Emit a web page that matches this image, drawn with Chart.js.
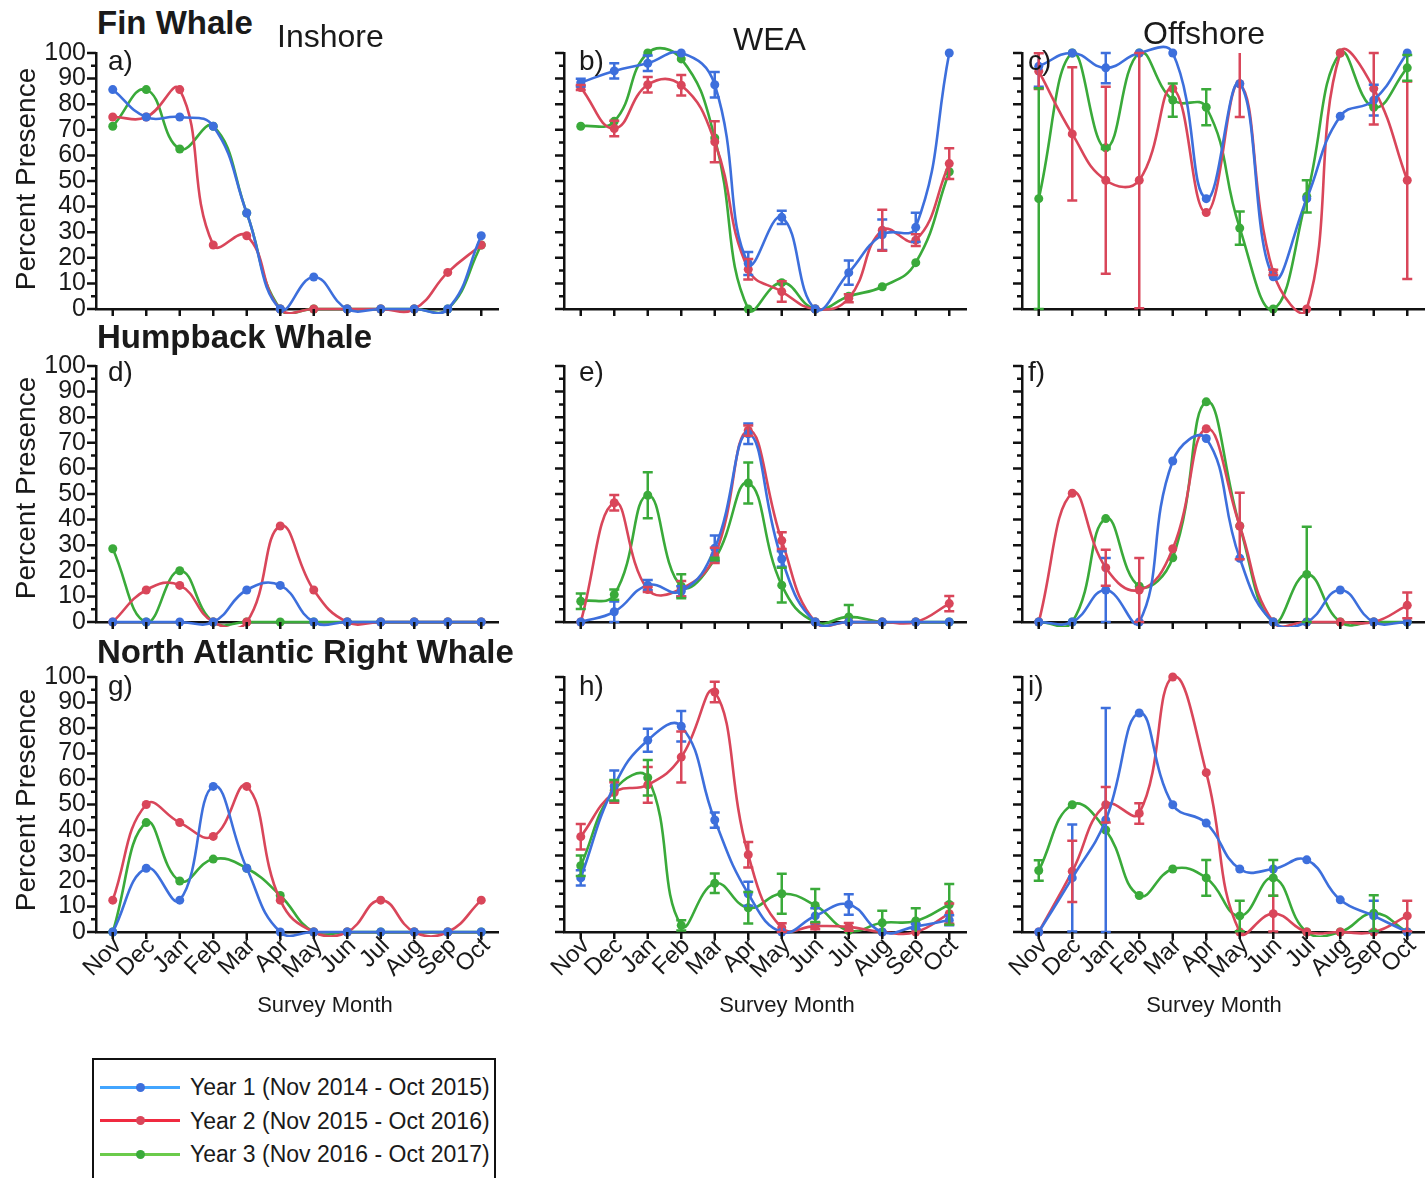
<!DOCTYPE html>
<html>
<head>
<meta charset="utf-8">
<script src="https://cdn.jsdelivr.net/npm/chart.js@4.4.1/dist/chart.umd.min.js"></script>
<style>
  html, body { margin: 0; padding: 0; background: #fff; }
  body { width: 1428px; height: 1178px; position: relative; overflow: hidden;
         font-family: 'Liberation Sans', Arial, sans-serif; color: #1a1a1a; }
  .txt { position: absolute; white-space: nowrap; z-index: 2; }
  .bold { font-weight: bold; font-size: 33px; line-height: 36px; }
  .col { font-size: 32px; line-height: 36px; }
  .tag { font-size: 28px; line-height: 30px; }
  .ytitle { font-size: 28px; line-height: 30px; width: 300px; text-align: center; transform: rotate(-90deg); }
  .xtitle { font-size: 22px; line-height: 26px; width: 300px; text-align: center; }
  #legend { position: absolute; left: 92px; top: 1058px; width: 400px; height: 140px;
            border: 2px solid #111; z-index: 2; }
  .lrow { position: absolute; left: 0; height: 34px; width: 400px; font-size: 23px; line-height: 34px; }
  .lline { position: absolute; left: 6px; top: 15.5px; width: 80px; height: 3px; }
  .ldot { position: absolute; left: 41.5px; top: 12.5px; width: 9px; height: 9px; border-radius: 50%; }
  .ltext { position: absolute; left: 96px; top: 0; }
</style>
</head>
<body>
<script>
const months = ['Nov', 'Dec', 'Jan', 'Feb', 'Mar', 'Apr', 'May', 'Jun', 'Jul', 'Aug', 'Sep', 'Oct'];
const yTickValues = [0, 10, 20, 30, 40, 50, 60, 70, 80, 90, 100];
const seriesNames = ['Year 1 (Nov 2014 - Oct 2015)', 'Year 2 (Nov 2015 - Oct 2016)', 'Year 3 (Nov 2016 - Oct 2017)'];

// Fin whale
const finInY1 = [85.7, 75, 75, 71.4, 37.5, 0, 12.5, 0, 0, 0, 0, 28.6];
const finInY2 = [75, 75, 85.7, 25, 28.6, 0, 0, 0, 0, 0, 14.3, 25];
const finInY3 = [71.4, 85.7, 62.5, 71.4, 37.5, 0, 0, 0, 0, 0, 0, 25];

const finWeaY1 = [88.4, 93, 96, 100, 87.6, 17.8, 35.8, 0, 14.2, 29, 31.9, 100];
const finWeaY1Err = [1.5, 3, 3, 0, 5, 4.5, 2.6, 0, 4.7, 6, 5.7, 0];
const finWeaY2 = [86.5, 70.5, 87.6, 87.4, 65.3, 15.5, 6.8, 0, 4.2, 30.8, 26.9, 56.8];
const finWeaY2Err = [1, 3, 3, 4, 8, 4, 4, 0, 1.6, 8, 2.3, 6];
const finWeaY3 = [71.4, 73.3, 100, 97.7, 66.8, 0, 10.3, 0, 5, 8.7, 18.1, 53.6];
const finWeaY3Err = [0, 0, 0, 0, 0, 0, 0, 0, 0, 0, 0, 0];

const finOffY1 = [94.8, 100, 94.2, 100, 100, 43.1, 88, 12.6, 43.1, 75.3, 81.6, 100];
const finOffY1Err = [8, 0, 6, 0, 0, 0, 0, 0, 0, 0, 6, 0];
const finOffY2 = [92.9, 68.4, 50.3, 50.3, 86.1, 37.7, 88, 14.3, 0, 100, 86.1, 50.3];
const finOffY2Err = [7, 26, 36.5, 50, 0, 0, 13, 1, 0, 0, 14, 38.6];
const finOffY3 = [43.1, 100, 63, 100, 81.6, 78.8, 31.6, 0, 44, 100, 78.8, 94.2];
const finOffY3Err = [43.1, 0, 0.5, 0, 6.5, 7, 6.5, 0, 6.3, 0, 0, 5];

// Humpback whale
const humpInY1 = [0, 0, 0, 0, 12.5, 14.3, 0, 0, 0, 0, 0, 0];
const humpInY2 = [0, 12.5, 14.3, 0, 0, 37.5, 12.5, 0, 0, 0, 0, 0];
const humpInY3 = [28.6, 0, 20, 0, 0, 0, 0, 0, 0, 0, 0, 0];

const humpWeaY1 = [0, 4, 14.4, 12, 28.8, 73.5, 24.6, 0, 0, 0, 0, 0];
const humpWeaY1Err = [0, 4, 2, 2, 5, 4, 3, 0, 0, 0, 0, 0];
const humpWeaY2 = [0, 46.6, 12.7, 13, 26, 74.8, 31.8, 0, 0, 0, 0, 7.2];
const humpWeaY2Err = [0, 3, 1, 3, 3, 2, 3.3, 0, 0, 0, 0, 3];
const humpWeaY3 = [8.1, 10.7, 49.5, 14, 24.6, 54.3, 14.4, 0, 2, 0, 0, 0];
const humpWeaY3Err = [3, 2, 9, 4.7, 0.5, 8, 6.8, 0, 4.6, 0, 0, 0];

const humpOffY1 = [0, 0, 12.5, 0, 62.9, 71.7, 24.9, 0, 0, 12.5, 0, 0];
const humpOffY1Err = [0, 0, 12.5, 0, 0, 0, 0, 0, 0, 0, 0, 0];
const humpOffY2 = [0, 50.3, 21.2, 12.5, 28.6, 75.5, 37.5, 0, 0, 0, 0, 6.5];
const humpOffY2Err = [0, 0, 7, 12.5, 0, 0, 13, 0, 0, 0, 0, 5];
const humpOffY3 = [0, 0, 40.4, 14, 25.1, 86, 37.5, 0, 18.6, 0, 0, 0];
const humpOffY3Err = [0, 0, 0, 0, 0, 0, 0, 0, 18.6, 0, 0, 0];

// North Atlantic right whale
const rightInY1 = [0, 25, 12.5, 57.1, 25, 0, 0, 0, 0, 0, 0, 0];
const rightInY2 = [12.5, 50, 42.9, 37.5, 57.1, 12.5, 0, 0, 12.5, 0, 0, 12.5];
const rightInY3 = [0, 42.9, 20, 28.6, 25, 14.3, 0, 0, 0, 0, 0, 0];

const rightWeaY1 = [21.2, 57.3, 75.2, 80.7, 43.9, 15, 0, 6.3, 10.8, 0, 2.2, 4.6];
const rightWeaY1Err = [3, 6, 4.5, 6, 3, 4.7, 0, 3, 4, 0, 1, 2];
const rightWeaY2 = [37.4, 54.7, 57.7, 68.6, 94.1, 30.3, 1.7, 2.3, 2, 0, 0, 7.2];
const rightWeaY2Err = [5, 4, 7, 10, 4, 5, 1.7, 1.2, 1.5, 0, 0, 4];
const rightWeaY3 = [26, 55.6, 60.5, 2.6, 19.1, 9.5, 15, 10.4, 0.6, 3.6, 4.3, 10.8];
const rightWeaY3Err = [4, 4, 7, 2, 3.8, 6.2, 7.8, 6.5, 0, 4.7, 5, 8];

const rightOffY1 = [0, 21.2, 43.9, 85.9, 49.9, 42.7, 24.7, 24.7, 28.3, 12.6, 6.3, 0];
const rightOffY1Err = [0, 21, 43.9, 0, 0, 0, 0, 0, 0, 0, 6, 0];
const rightOffY2 = [0, 23.8, 49.9, 46.5, 100, 62.5, 0, 7.2, 0, 0, 0, 6.3];
const rightOffY2Err = [0, 12, 7, 4, 0, 0, 0, 7, 0, 0, 0, 6];
const rightOffY3 = [24.1, 49.9, 40, 14.3, 24.7, 21.2, 6.3, 21.2, 0, 0, 7.4, 0];
const rightOffY3Err = [4, 0, 0, 0, 0, 7, 6, 7, 0, 0, 7, 0];

const colors = ['#3d6fdc', '#d9465a', '#3aaa3a'];
const legendLineColors = ['#42a5ff', '#f02a40', '#6bcb4b'];
const fontFamily = "'Liberation Sans', Arial, sans-serif";

// panel layout
const colX = [96, 564, 1022];
const rowTop = [53, 366, 677];
const rowBottom = [309, 622, 932];
const plotW = 402;
const padL = 70, padT = 12, padR = 12;

const panels = [
    { tag: 'a)', col: 0, row: 0, series: [finInY1, finInY2, finInY3] },
    { tag: 'b)', col: 1, row: 0, series: [finWeaY1, finWeaY2, finWeaY3], errs: [finWeaY1Err, finWeaY2Err, finWeaY3Err] },
    { tag: 'c)', col: 2, row: 0, series: [finOffY1, finOffY2, finOffY3], errs: [finOffY1Err, finOffY2Err, finOffY3Err] },
    { tag: 'd)', col: 0, row: 1, series: [humpInY1, humpInY2, humpInY3] },
    { tag: 'e)', col: 1, row: 1, series: [humpWeaY1, humpWeaY2, humpWeaY3], errs: [humpWeaY1Err, humpWeaY2Err, humpWeaY3Err] },
    { tag: 'f)', col: 2, row: 1, series: [humpOffY1, humpOffY2, humpOffY3], errs: [humpOffY1Err, humpOffY2Err, humpOffY3Err] },
    { tag: 'g)', col: 0, row: 2, series: [rightInY1, rightInY2, rightInY3] },
    { tag: 'h)', col: 1, row: 2, series: [rightWeaY1, rightWeaY2, rightWeaY3], errs: [rightWeaY1Err, rightWeaY2Err, rightWeaY3Err] },
    { tag: 'i)', col: 2, row: 2, series: [rightOffY1, rightOffY2, rightOffY3], errs: [rightOffY1Err, rightOffY2Err, rightOffY3Err] }
];

// tick marks: majors every 10, minors every 5, x ticks pointing down
const axisTicks = {
    id: 'axisTicks',
    afterDraw(chart) {
        const { ctx, chartArea, scales: { x, y } } = chart;
        ctx.save();
        ctx.strokeStyle = '#111';
        ctx.lineWidth = 2.5;
        ctx.beginPath();
        for (let v = 0; v <= 100; v += 5) {
            const py = y.getPixelForValue(v);
            const len = v % 10 === 0 ? 9 : 5;
            ctx.moveTo(chartArea.left - len, py);
            ctx.lineTo(chartArea.left, py);
        }
        months.forEach((m, i) => {
            const px = x.getPixelForValue(i);
            ctx.moveTo(px, chartArea.bottom);
            ctx.lineTo(px, chartArea.bottom + 7);
        });
        ctx.stroke();
        ctx.restore();
    }
};

// error bars from the dataset's errors array
const errorBars = {
    id: 'errorBars',
    afterDatasetsDraw(chart) {
        const { ctx, scales: { y } } = chart;
        chart.data.datasets.forEach((ds, di) => {
            if (!ds.errors) return;
            const meta = chart.getDatasetMeta(di);
            ctx.save();
            ctx.strokeStyle = ds.borderColor;
            ctx.lineWidth = 2.5;
            ctx.beginPath();
            ds.errors.forEach((e, i) => {
                if (!e) return;
                const v = ds.data[i];
                const px = meta.data[i].x;
                const hi = v + e, lo = v - e;
                const top = y.getPixelForValue(Math.min(100, hi));
                const bot = y.getPixelForValue(Math.max(0, lo));
                ctx.moveTo(px, top);
                ctx.lineTo(px, bot);
                if (hi <= 100.5) { ctx.moveTo(px - 5, top); ctx.lineTo(px + 5, top); }
                if (lo >= -0.5) { ctx.moveTo(px - 5, bot); ctx.lineTo(px + 5, bot); }
            });
            ctx.stroke();
            ctx.restore();
        });
    }
};

panels.forEach(p => {
    const bottomRow = p.row === 2;
    const xH = bottomRow ? 100 : 12;
    const left = colX[p.col] - padL;
    const top = rowTop[p.row] - padT;
    const w = padL + plotW + padR;
    const h = padT + (rowBottom[p.row] - rowTop[p.row]) + xH;
    const canvas = document.createElement('canvas');
    canvas.width = w;
    canvas.height = h;
    canvas.style.cssText = 'position:absolute;left:' + left + 'px;top:' + top + 'px;width:' + w + 'px;height:' + h + 'px;';
    document.body.appendChild(canvas);

    new Chart(canvas.getContext('2d'), {
        type: 'line',
        data: {
            labels: months,
            datasets: p.series.map((d, k) => ({
                label: seriesNames[k],
                data: d,
                errors: p.errs ? p.errs[k] : null,
                borderColor: colors[k],
                backgroundColor: colors[k],
                borderWidth: 2.6,
                pointRadius: 4.5,
                pointBorderWidth: 0,
                pointHoverRadius: 4.5,
                tension: 0.45,
                clip: { left: 10, right: 10, top: 8, bottom: 5 }
            }))
        },
        options: {
            responsive: false,
            animation: false,
            events: [],
            layout: { padding: { left: 0, top: padT, right: padR, bottom: 0 }, autoPadding: false },
            elements: { line: { capBezierPoints: false } },
            plugins: { legend: { display: false }, tooltip: { enabled: false } },
            scales: {
                x: {
                    offset: true,
                    grid: { display: false },
                    border: { display: true, color: '#111', width: 2.5 },
                    ticks: {
                        display: bottomRow,
                        autoSkip: false,
                        maxRotation: 45,
                        minRotation: 45,
                        padding: -8,
                        labelOffset: 5,
                        color: '#1a1a1a',
                        font: { family: fontFamily, size: 24 }
                    },
                    afterFit: s => {
                        s.height = xH;
                        s.paddingLeft = 0;
                        s.paddingRight = 0;
                    }
                },
                y: {
                    min: 0,
                    max: 100,
                    grid: { display: false },
                    border: { display: true, color: '#111', width: 2.5 },
                    ticks: {
                        display: p.col === 0,
                        autoSkip: false,
                        stepSize: 10,
                        padding: 2,
                        color: '#1a1a1a',
                        font: { family: fontFamily, size: 25 },
                        callback: v => yTickValues.includes(v) ? v : ''
                    },
                    afterFit: s => {
                        s.width = padL;
                        s.paddingTop = 0;
                        s.paddingBottom = 0;
                    }
                }
            }
        },
        plugins: [axisTicks, errorBars]
    });
});

// text around the panels
function addText(cls, text, left, top) {
    const d = document.createElement('div');
    d.className = 'txt ' + cls;
    d.textContent = text;
    d.style.left = left + 'px';
    d.style.top = top + 'px';
    document.body.appendChild(d);
    return d;
}

addText('bold', 'Fin Whale', 97, 5);
addText('bold', 'Humpback Whale', 97, 319);
addText('bold', 'North Atlantic Right Whale', 97, 634);
addText('col', 'Inshore', 277, 18);
addText('col', 'WEA', 733, 21);
addText('col', 'Offshore', 1143, 15);

const tagX = [108, 579, 1028];
const tagTop = [46, 357, 671];
panels.forEach(p => addText('tag', p.tag, tagX[p.col], tagTop[p.row]));

[179, 488, 800].forEach(cy => addText('ytitle', 'Percent Presence', 26 - 150, cy - 15));
[325, 787, 1214].forEach(cx => addText('xtitle', 'Survey Month', cx - 150, 992));

// legend
const legend = document.createElement('div');
legend.id = 'legend';
seriesNames.forEach((name, k) => {
    const row = document.createElement('div');
    row.className = 'lrow';
    row.style.top = (10 + k * 33.5) + 'px';
    row.innerHTML = '<div class="lline" style="background:' + legendLineColors[k] + '"></div>' +
        '<div class="ldot" style="background:' + colors[k] + '"></div>' +
        '<div class="ltext">' + name + '</div>';
    legend.appendChild(row);
});
document.body.appendChild(legend);
</script>
</body>
</html>
